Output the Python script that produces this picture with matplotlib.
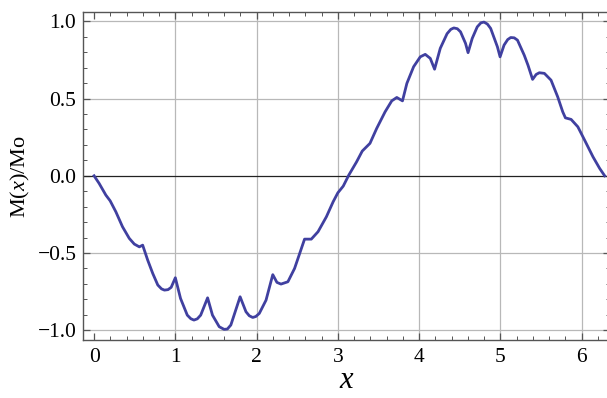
import matplotlib
matplotlib.use("Agg")
import matplotlib.pyplot as plt
from matplotlib.ticker import MultipleLocator

# 読み取った値 (x, M(x)/Mo)
x_vals = [0.0, 0.062, 0.145, 0.198, 0.268, 0.35, 0.433, 0.495, 0.557, 0.598,
          0.66, 0.722, 0.784, 0.83, 0.866, 0.91, 0.949, 1.0,
          1.064, 1.147, 1.19, 1.229, 1.27, 1.312, 1.397,
          1.457, 1.54, 1.6, 1.64, 1.683, 1.797,
          1.869, 1.91, 1.952, 1.99, 2.033, 2.116, 2.199,
          2.25, 2.3, 2.385, 2.467, 2.53, 2.59,
          2.673, 2.756, 2.859, 2.942, 3.0, 3.066, 3.135, 3.23, 3.3, 3.395,
          3.478, 3.581, 3.663, 3.725, 3.795,
          3.849, 3.932, 4.014, 4.075, 4.137, 4.19,
          4.26, 4.344, 4.39, 4.427, 4.47, 4.509, 4.571, 4.602,
          4.653, 4.715, 4.76, 4.798, 4.84, 4.88, 4.963, 4.996,
          5.045, 5.09, 5.127, 5.17, 5.21, 5.293, 5.34, 5.396,
          5.44, 5.479, 5.541, 5.623, 5.705, 5.767, 5.8,
          5.87, 5.953, 6.036, 6.139, 6.221, 6.283]
m_vals = [0.0, -0.049, -0.125, -0.162, -0.233, -0.33, -0.405, -0.442, -0.46, -0.449,
          -0.546, -0.632, -0.707, -0.732, -0.74, -0.737, -0.722, -0.66,
          -0.794, -0.902, -0.925, -0.934, -0.926, -0.902, -0.79,
          -0.902, -0.977, -0.994, -0.992, -0.966, -0.783,
          -0.88, -0.906, -0.917, -0.911, -0.891, -0.805, -0.64,
          -0.69, -0.701, -0.686, -0.6, -0.503, -0.41,
          -0.41, -0.362, -0.265, -0.168, -0.11, -0.067, 0.005, 0.09, 0.16, 0.21,
          0.307, 0.414, 0.485, 0.507, 0.485,
          0.598, 0.706, 0.77, 0.786, 0.76, 0.69,
          0.825, 0.92, 0.948, 0.957, 0.952, 0.932, 0.857, 0.797,
          0.889, 0.964, 0.99, 0.995, 0.982, 0.954, 0.835, 0.77,
          0.846, 0.882, 0.895, 0.893, 0.878, 0.781, 0.715, 0.624,
          0.656, 0.667, 0.663, 0.619, 0.511, 0.414, 0.375,
          0.365, 0.317, 0.231, 0.123, 0.048, 0.0]

x_ticks = [0, 1, 2, 3, 4, 5, 6]
y_ticks = [-1.0, -0.5, 0.0, 0.5, 1.0]

plt.rcParams['font.family'] = ['Liberation Serif', 'DejaVu Serif']
plt.rcParams['mathtext.fontset'] = 'custom'
plt.rcParams['mathtext.rm'] = 'Liberation Serif'
plt.rcParams['mathtext.it'] = 'Liberation Serif:italic'

fig = plt.figure(figsize=(6.07, 3.98), dpi=100)
ax = fig.add_axes([0.1373, 0.1457, 0.8677, 0.8233])

ax.set_xlim(-0.132, 6.349)
ax.set_ylim(-1.063, 1.058)

# グリッドとゼロ線
for xv in x_ticks[1:]:
    ax.axvline(xv, color="#b8b8b8", lw=0.9, zorder=1)
for yv in y_ticks:
    if yv != 0.0:
        ax.axhline(yv, color="#b8b8b8", lw=0.9, zorder=1)
ax.axhline(0.0, color="#222222", lw=0.9, zorder=2)

ax.plot(x_vals, m_vals, color="#4040a0", lw=2.0, zorder=3,
        solid_joinstyle="round")

ax.set_xticks(x_ticks)
ax.set_yticks(y_ticks)
ax.set_xticklabels([str(t) for t in x_ticks])
ax.set_yticklabels(["\u22121.0", "\u22120.5", "0.0", "0.5", "1.0"])
ax.xaxis.set_minor_locator(MultipleLocator(0.2))
ax.yaxis.set_minor_locator(MultipleLocator(0.1))
ax.tick_params(which="both", direction="in", top=True, right=True,
               color="#555555", labelsize=15.5)
ax.tick_params(which="major", length=5, width=0.9)
ax.tick_params(which="minor", length=3, width=0.7)
ax.tick_params(axis="x", pad=6)
ax.tick_params(axis="y", pad=5)

for side in ["left", "bottom", "top"]:
    ax.spines[side].set_color("#555555")
    ax.spines[side].set_linewidth(1.0)
ax.spines["right"].set_visible(False)

ax.set_xlabel("$x$", fontsize=22, labelpad=-1)
ax.set_ylabel("M($x$)/Mo", fontsize=16, labelpad=4)

fig.savefig("out.png", dpi=100)
